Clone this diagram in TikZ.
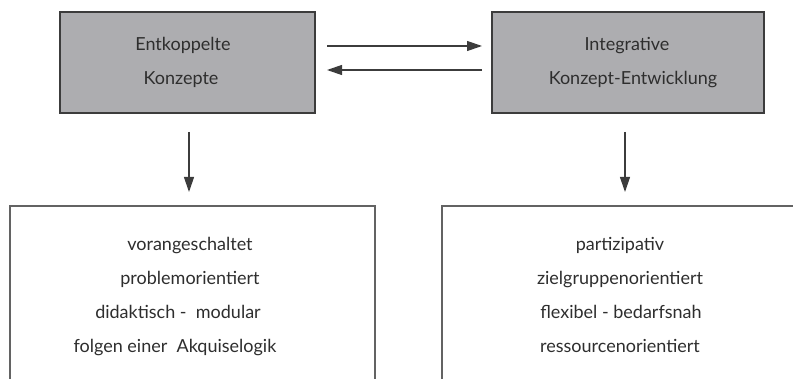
\documentclass[tikz,border=0pt]{standalone}
\usepackage{fontspec}
\setmainfont{Lato}
\usetikzlibrary{arrows.meta}
\definecolor{boxgray}{HTML}{ADADB0}
\definecolor{linegray}{HTML}{3C3C3C}
\definecolor{txt}{HTML}{2E2E2E}
\begin{document}
\begin{tikzpicture}[x=1pt,y=-1pt,
  topbox/.style={draw=linegray,line width=1.2pt,fill=boxgray,inner sep=0pt},
  botbox/.style={draw=linegray!80,line width=1.2pt,fill=white,inner sep=0pt},
  lbl/.style={font=\fontsize{18}{21}\selectfont,text=txt,inner sep=0pt,anchor=base},
  conn/.style={draw=linegray,line width=1.2pt,-{Triangle[length=15pt,width=10pt]}}]
\useasboundingbox (0,0) rectangle (793,379);
\begin{scope}
\clip (0,0) rectangle (793,379);
% top boxes
\draw[topbox] (60,12) rectangle (315,113);
\draw[topbox] (492,12) rectangle (764,113);
% bottom boxes
\draw[botbox] (10,206) rectangle (375,400);
\draw[botbox] (442,206) rectangle (820,400);
\end{scope}
% text
\node[lbl] (t1) at (183,51) {Entkoppelte};
\node[lbl] (t2) at (181,85) {Konzepte};
\node[lbl] (t3) at (627,51) {Integrative};
\node[lbl] (t4) at (633,85) {Konzept-Entwicklung};
\node[lbl] (l1) at (190,251) {vorangeschaltet};
\node[lbl] (l2) at (190,285) {problemorientiert};
\node[lbl] (l3) at (178,319) {didaktisch -\ \ modular};
\node[lbl] (l4) at (175,353) {folgen einer\ \ Akquiselogik};
\node[lbl] (r1) at (620,251) {partizipativ};
\node[lbl] (r2) at (620,285) {zielgruppenorientiert};
\node[lbl] (r3) at (621,319) {flexibel - bedarfsnah};
\node[lbl] (r4) at (620,353) {ressourcenorientiert};
% connectors
\coordinate (a1) at (327,46);
\coordinate (b1) at (482,46);
\coordinate (b2) at (482,70);
\coordinate (a2) at (327,70);
\coordinate (d1s) at (189,132);
\coordinate (d1e) at (189,192);
\coordinate (d2s) at (625,132);
\coordinate (d2e) at (625,192);
\draw[conn] (a1) -- (b1);
\draw[conn] (b2) -- (a2);
\draw[conn] (d1s) -- (d1e);
\draw[conn] (d2s) -- (d2e);
\end{tikzpicture}
\end{document}
